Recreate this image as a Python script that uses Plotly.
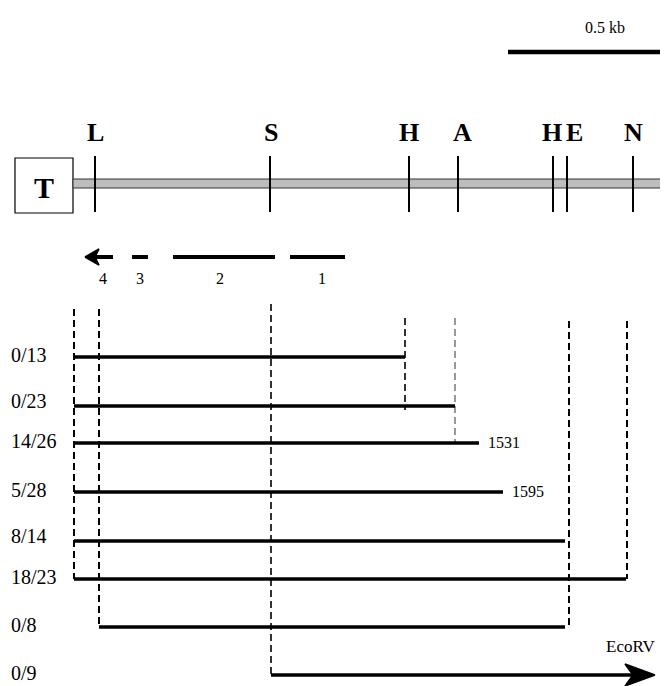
import plotly.graph_objects as go

# ---- data (map units along x, rows along y) ----
site_names = ["L", "S", "H", "A", "H", "E", "N"]
site_pos = [95, 270, 409, 458, 553, 567, 633]
site_label_pos = [95, 271, 409, 462, 552, 574, 633]

frag_names = ["4", "3", "2", "1"]
frag_start = [85, 132, 173, 290]
frag_end = [113, 148, 275, 345]
frag_label_pos = [103, 140, 220, 322]

row_labels = ["0/13", "0/23", "14/26", "5/28", "8/14", "18/23", "0/8", "0/9"]
row_y = [357, 406, 443, 492, 541, 579, 627, 675]
row_start = [74, 74, 74, 74, 74, 74, 99, 271]
row_end = [405, 455, 479, 503, 565, 626, 565, 655]
row_end_text = ["", "", "1531", "1595", "", "", "", "EcoRV"]

# dashed guides: x, y_top, y_bottom
guide_x = [74, 99, 271, 405, 455, 569, 627]
guide_top = [309, 309, 304, 318, 318, 321, 321]
guide_bot = [579, 627, 675, 410, 443, 627, 579]
guide_color = ["black", "black", "black", "black", "#555555", "black", "black"]
guide_width = [2, 2, 1.6, 1.6, 1.2, 2, 2]

scale_start, scale_end, scale_label = 508, 668, "0.5 kb"

SERIF = "Liberation Serif, Times New Roman, serif"

fig = go.Figure()
shapes = []
annotations = []

# scale bar
shapes.append(dict(type="line", x0=scale_start, x1=scale_end + 2, y0=52, y1=52,
                   line=dict(color="black", width=4.5)))
annotations.append(dict(x=605, y=27, text=scale_label,
                        showarrow=False, font=dict(family=SERIF, size=16, color="black")))

# T box
shapes.append(dict(type="rect", x0=15, x1=73, y0=158, y1=213,
                   line=dict(color="black", width=1.2), fillcolor="white"))
annotations.append(dict(x=44, y=187, text="<b>T</b>", showarrow=False,
                        font=dict(family=SERIF, size=30, color="black")))
# gray band
shapes.append(dict(type="rect", x0=73, x1=672, y0=179, y1=188,
                   line=dict(color="#333333", width=1), fillcolor="#bdbdbd"))

# sites
for name, p, lp in zip(site_names, site_pos, site_label_pos):
    shapes.append(dict(type="line", x0=p, x1=p, y0=156, y1=212,
                       line=dict(color="black", width=2)))
    annotations.append(dict(x=lp, y=132, text="<b>%s</b>" % name, showarrow=False,
                            font=dict(family=SERIF, size=26, color="black")))

# fragments
for i, (n, s, e, lp) in enumerate(zip(frag_names, frag_start, frag_end, frag_label_pos)):
    x0 = s + (10 if i == 0 else 0)
    shapes.append(dict(type="line", x0=x0, x1=e, y0=257, y1=257,
                       line=dict(color="black", width=4)))
    annotations.append(dict(x=lp, y=278, text=n, showarrow=False,
                            font=dict(family=SERIF, size=16, color="black")))
# arrowhead for fragment 4 (pointing left)
s = frag_start[0]
fig.add_trace(go.Scatter(x=[s, s + 14, s + 10, s + 14, s], y=[257, 249, 257, 265, 257],
                         mode="lines", fill="toself", fillcolor="black",
                         line=dict(color="black", width=1.5), hoverinfo="skip"))

# dashed guides
for gx, gt, gb, gc, gw in zip(guide_x, guide_top, guide_bot, guide_color, guide_width):
    shapes.append(dict(type="line", x0=gx, x1=gx, y0=gt, y1=gb,
                       line=dict(color=gc, width=gw, dash="7px,4px")))

# rows
for lab, y, s, e, et in zip(row_labels, row_y, row_start, row_end, row_end_text):
    is_arrow = (et == "EcoRV")
    xe = e - 14 if is_arrow else e
    shapes.append(dict(type="line", x0=s, x1=xe, y0=y, y1=y,
                       line=dict(color="black", width=3.5)))
    ly = y - 2 if lab not in ("0/23", "8/14") else y - 5
    annotations.append(dict(x=9, y=ly, text=lab, showarrow=False, xanchor="left",
                            font=dict(family=SERIF, size=20, color="black")))
    if is_arrow:
        fig.add_trace(go.Scatter(x=[e, e - 30, e - 22, e - 30, e],
                                 y=[y, y - 11, y, y + 11, y],
                                 mode="lines", fill="toself", fillcolor="black",
                                 line=dict(color="black", width=1.5), hoverinfo="skip"))
        annotations.append(dict(x=e + 2, y=y - 29, text=et, showarrow=False, xanchor="right",
                                font=dict(family=SERIF, size=17, color="black")))
    elif et:
        annotations.append(dict(x=e + 7, y=y - 1, text=et, showarrow=False, xanchor="left",
                                font=dict(family=SERIF, size=16, color="black")))

# page body has an 8px margin: shift the plotting frame so map units equal window pixels
fig.update_layout(
    width=660, height=678, margin=dict(l=0, r=0, t=0, b=0),
    paper_bgcolor="white", plot_bgcolor="white", showlegend=False,
    shapes=shapes, annotations=annotations,
    xaxis=dict(range=[8, 668], visible=False, fixedrange=True),
    yaxis=dict(range=[686, 8], visible=False, fixedrange=True),
)
fig.write_html("out.html")
